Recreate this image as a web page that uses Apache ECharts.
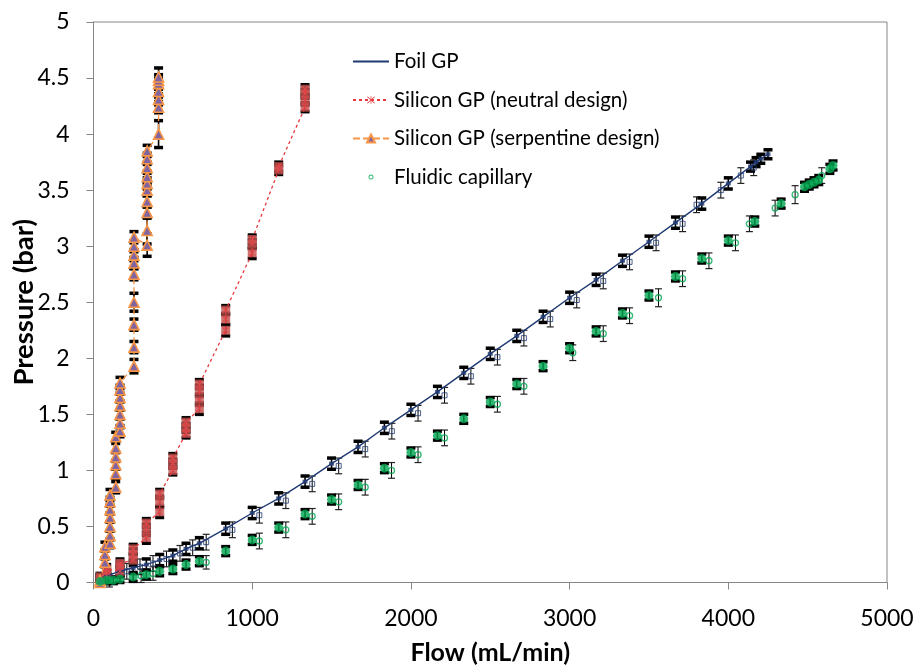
<!DOCTYPE html>
<html>
<head>
<meta charset="utf-8">
<script src="https://cdn.jsdelivr.net/npm/echarts@6/dist/echarts.min.js"></script>
<style>html,body{margin:0;padding:0;background:#fff}#c{width:917px;height:667px}</style>
</head>
<body>
<div id="c"></div>
<script>
// ---- Data (flow in mL/min, pressure in bar) ----
const foilFlow = [42, 83, 167, 250, 333, 417, 500, 583, 667, 833, 1000, 1167, 1333, 1500, 1667, 1833, 2000, 2167, 2333, 2500, 2667, 2833, 3000, 3167, 3333, 3500, 3667, 3833, 4000, 4140, 4175, 4205, 4250];
const foilP    = [0.04, 0.06, 0.10, 0.13, 0.16, 0.20, 0.24, 0.30, 0.35, 0.48, 0.62, 0.75, 0.90, 1.06, 1.21, 1.38, 1.54, 1.70, 1.87, 2.04, 2.20, 2.37, 2.54, 2.70, 2.87, 3.04, 3.21, 3.38, 3.56, 3.71, 3.75, 3.78, 3.82];
const foilErr  = [0.04, 0.04, 0.05, 0.05, 0.05, 0.05, 0.05, 0.05, 0.05, 0.05, 0.05, 0.05, 0.05, 0.05, 0.05, 0.05, 0.05, 0.05, 0.05, 0.05, 0.05, 0.05, 0.05, 0.05, 0.05, 0.05, 0.05, 0.05, 0.05, 0.04, 0.04, 0.04, 0.04];

const foilOpenFlow = [88, 210, 293, 375, 460, 545, 625, 710, 875, 1045, 1212, 1378, 1545, 1712, 1880, 2045, 2212, 2378, 2545, 2712, 2878, 3045, 3212, 3378, 3545, 3712, 3800, 3953, 4079, 4160];
const foilOpenP    = [0.05, 0.10, 0.14, 0.17, 0.21, 0.26, 0.31, 0.36, 0.47, 0.60, 0.73, 0.88, 1.04, 1.19, 1.35, 1.51, 1.67, 1.84, 2.01, 2.18, 2.35, 2.52, 2.69, 2.86, 3.03, 3.20, 3.37, 3.50, 3.63, 3.70];
const foilOpenErr  = [0.07, 0.07, 0.07, 0.07, 0.07, 0.07, 0.07, 0.07, 0.07, 0.07, 0.07, 0.07, 0.07, 0.07, 0.07, 0.07, 0.07, 0.07, 0.07, 0.07, 0.07, 0.07, 0.07, 0.07, 0.07, 0.07, 0.07, 0.07, 0.07, 0.07];

const capFlow = [42, 83, 125, 167, 250, 333, 417, 500, 583, 667, 833, 1000, 1167, 1333, 1500, 1667, 1833, 2000, 2167, 2333, 2500, 2667, 2833, 3000, 3167, 3333, 3500, 3667, 3833, 4000, 4167, 4333, 4480, 4510, 4540, 4570, 4640, 4660];
const capP    = [0.01, 0.02, 0.02, 0.03, 0.05, 0.07, 0.10, 0.12, 0.16, 0.19, 0.28, 0.38, 0.49, 0.61, 0.74, 0.87, 1.02, 1.16, 1.31, 1.46, 1.61, 1.77, 1.93, 2.09, 2.24, 2.40, 2.56, 2.73, 2.89, 3.05, 3.22, 3.38, 3.53, 3.55, 3.57, 3.59, 3.69, 3.72];
const capErr  = [0.03, 0.03, 0.03, 0.03, 0.04, 0.04, 0.04, 0.04, 0.04, 0.04, 0.04, 0.04, 0.04, 0.04, 0.04, 0.04, 0.04, 0.04, 0.04, 0.04, 0.04, 0.04, 0.04, 0.04, 0.04, 0.04, 0.04, 0.04, 0.04, 0.04, 0.04, 0.04, 0.04, 0.04, 0.04, 0.04, 0.04, 0.04];

const capOpenFlow = [100, 300, 375, 710, 1045, 1212, 1378, 1545, 1712, 1878, 2045, 2212, 2545, 2712, 3020, 3212, 3378, 3560, 3712, 3878, 4045, 4133, 4295, 4421, 4589];
const capOpenP    = [0.02, 0.06, 0.08, 0.18, 0.37, 0.47, 0.59, 0.72, 0.85, 1.00, 1.14, 1.29, 1.59, 1.75, 2.05, 2.22, 2.38, 2.54, 2.71, 2.87, 3.03, 3.20, 3.34, 3.46, 3.63];
const capOpenErr  = [0.06, 0.06, 0.06, 0.06, 0.07, 0.07, 0.07, 0.07, 0.07, 0.07, 0.07, 0.07, 0.07, 0.07, 0.07, 0.07, 0.07, 0.08, 0.07, 0.07, 0.07, 0.07, 0.07, 0.08, 0.07];

const neutralFlow = [42, 42, 83, 83, 83, 167, 167, 167, 250, 250, 250, 333, 333, 333, 417, 417, 417, 500, 500, 500, 583, 583, 583, 667, 667, 667, 667, 833, 833, 833, 1000, 1000, 1000, 1167, 1167, 1333, 1333, 1333, 1333];
const neutralP    = [0.03, 0.05, 0.06, 0.09, 0.12, 0.10, 0.14, 0.17, 0.20, 0.25, 0.30, 0.40, 0.47, 0.53, 0.63, 0.72, 0.79, 1.00, 1.06, 1.11, 1.33, 1.38, 1.43, 1.55, 1.63, 1.71, 1.77, 2.25, 2.35, 2.43, 2.94, 3.02, 3.06, 3.68, 3.71, 4.24, 4.30, 4.36, 4.40];
const neutralErr  = [0.03, 0.03, 0.03, 0.03, 0.04, 0.04, 0.04, 0.04, 0.05, 0.05, 0.04, 0.05, 0.05, 0.04, 0.05, 0.05, 0.04, 0.04, 0.04, 0.04, 0.04, 0.04, 0.04, 0.05, 0.05, 0.05, 0.04, 0.05, 0.05, 0.04, 0.05, 0.04, 0.04, 0.04, 0.04, 0.04, 0.04, 0.04, 0.04];

const serpFlow = [41, 41, 72, 72, 72, 104, 104, 104, 104, 104, 104, 104, 140, 140, 140, 140, 140, 140, 167, 167, 167, 167, 167, 167, 167, 255, 255, 255, 255, 255, 255, 255, 255, 255, 338, 338, 338, 338, 338, 338, 338, 338, 338, 338, 410, 410, 410, 410, 410, 410, 410];
const serpP    = [0.00, 0.02, 0.18, 0.25, 0.32, 0.35, 0.42, 0.50, 0.58, 0.65, 0.72, 0.78, 0.85, 0.97, 1.05, 1.12, 1.20, 1.30, 1.35, 1.42, 1.50, 1.58, 1.65, 1.72, 1.78, 1.93, 2.10, 2.30, 2.50, 2.75, 2.85, 2.92, 3.00, 3.08, 3.01, 3.14, 3.30, 3.40, 3.50, 3.56, 3.62, 3.70, 3.78, 3.85, 4.00, 4.24, 4.31, 4.38, 4.45, 4.48, 4.51];
const serpErr  = [0.03, 0.04, 0.04, 0.04, 0.04, 0.04, 0.04, 0.04, 0.04, 0.04, 0.04, 0.05, 0.05, 0.04, 0.04, 0.04, 0.04, 0.04, 0.05, 0.04, 0.04, 0.04, 0.04, 0.04, 0.05, 0.06, 0.05, 0.05, 0.08, 0.05, 0.05, 0.05, 0.05, 0.05, 0.10, 0.12, 0.05, 0.05, 0.05, 0.05, 0.05, 0.05, 0.05, 0.05, 0.12, 0.05, 0.05, 0.05, 0.05, 0.05, 0.08];

const xTickMin = 0, xTickMax = 5000, xTickStep = 1000;
const yTickMin = 0, yTickMax = 5, yTickStep = 0.5;

const seriesNames = ['Foil GP', 'Silicon GP (neutral design)', 'Silicon GP (serpentine design)', 'Fluidic capillary'];
const xTitle = 'Flow (mL/min)';
const yTitle = 'Pressure (bar)';

// ---- helpers ----
const pairs = (xs, ys) => xs.map((x, i) => [x, ys[i]]);
const errData = (xs, ys, es) => xs.map((x, i) => [x, ys[i] - es[i], ys[i] + es[i]]);

function errSeries(xs, ys, es, thick) {
  return {
    type: 'custom',
    silent: true,
    z: 2,
    data: errData(xs, ys, es),
    encode: { x: 0, y: [1, 2] },
    renderItem: function (params, api) {
      const x = api.value(0), lo = api.value(1), hi = api.value(2);
      const a = api.coord([x, lo]), b = api.coord([x, hi]);
      const w = thick ? 4.5 : 3.5;
      const capStyle = { stroke: thick ? '#000' : '#222', lineWidth: thick ? 3.5 : 1.2 };
      return {
        type: 'group',
        children: [
          { type: 'line', shape: { x1: a[0], y1: a[1], x2: b[0], y2: b[1] }, style: { stroke: '#000', lineWidth: thick ? 1.6 : 1 } },
          { type: 'line', shape: { x1: a[0] - w, y1: a[1], x2: a[0] + w, y2: a[1] }, style: capStyle },
          { type: 'line', shape: { x1: b[0] - w, y1: b[1], x2: b[0] + w, y2: b[1] }, style: capStyle }
        ]
      };
    }
  };
}

const asterisk = 'path://M1.4,0.6L9.4,8.6L8.6,9.4L0.6,1.4ZM8.6,0.6L9.4,1.4L1.4,9.4L0.6,8.6ZM4.6,0L5.4,0L5.4,10L4.6,10Z';
const smallRing = 'path://M0,0M36,10M20.5,5A2.5,2.5,0,1,0,15.5,5A2.5,2.5,0,1,0,20.5,5ZM19.6,5A1.6,1.6,0,1,1,16.4,5A1.6,1.6,0,1,1,19.6,5Z';

const font = 'Lato, "Open Sans", sans-serif';

const chart = echarts.init(document.getElementById('c'), null, { renderer: 'canvas' });
chart.setOption({
  animation: false,
  backgroundColor: '#fff',
  textStyle: { fontFamily: font, color: '#000' },
  grid: { left: 93.5, right: 30, top: 22, bottom: 84.5, outerBoundsMode: 'none', containLabel: false, show: true, borderColor: '#868686', borderWidth: 1, backgroundColor: 'transparent' },
  legend: {
    orient: 'vertical',
    left: 352,
    top: 51,
    padding: 0,
    itemWidth: 36,
    itemHeight: 10,
    itemGap: 17.5,
    textStyle: { fontFamily: font, fontSize: 20.5, color: '#000', lineHeight: 20 },
    data: [
      { name: seriesNames[0], itemStyle: { opacity: 0 } },
      { name: seriesNames[1] },
      { name: seriesNames[2] },
      { name: seriesNames[3], icon: smallRing, itemStyle: { color: '#00A651', borderWidth: 0 } }
    ]
  },
  xAxis: {
    type: 'value',
    min: xTickMin, max: xTickMax, interval: xTickStep,
    name: xTitle, nameLocation: 'middle', nameGap: 58,
    nameTextStyle: { fontFamily: font, fontSize: 25, fontWeight: 'bold', color: '#000' },
    axisLine: { lineStyle: { color: '#868686', width: 1 } },
    axisTick: { show: true, inside: false, length: 7, lineStyle: { color: '#868686' } },
    axisLabel: { fontFamily: font, fontSize: 23, color: '#000', margin: 25, formatter: v => String(v) },
    splitLine: { show: false }
  },
  yAxis: {
    type: 'value',
    min: yTickMin, max: yTickMax, interval: yTickStep,
    name: yTitle, nameLocation: 'middle', nameGap: 55, nameRotate: 90, nameMoveOverlap: false,
    nameTextStyle: { fontFamily: font, fontSize: 27.5, fontWeight: 'bold', color: '#000' },
    axisLine: { show: true, lineStyle: { color: '#868686', width: 1 } },
    axisTick: { show: true, inside: false, length: 7, lineStyle: { color: '#868686' } },
    axisLabel: { fontFamily: font, fontSize: 23, color: '#000', margin: 24, formatter: v => String(v) },
    splitLine: { show: false }
  },
  series: [
    // error bars
    errSeries(foilOpenFlow, foilOpenP, foilOpenErr, false),
    errSeries(capOpenFlow, capOpenP, capOpenErr, false),
    errSeries(foilFlow, foilP, foilErr, true),
    errSeries(capFlow, capP, capErr, true),
    errSeries(neutralFlow, neutralP, neutralErr, true),
    errSeries(serpFlow, serpP, serpErr, true),
    // Foil GP line
    {
      name: seriesNames[0], type: 'line', data: pairs(foilFlow, foilP), symbol: 'none',
      lineStyle: { color: '#1F3A73', width: 1.4 }, itemStyle: { color: '#1F3A73' }, z: 4
    },
    {
      type: 'scatter', data: pairs(foilFlow, foilP), symbol: 'rect', symbolSize: [5, 4],
      itemStyle: { color: '#1F3A73' }, z: 4, silent: true
    },
    {
      type: 'scatter', data: pairs(foilOpenFlow, foilOpenP), symbol: 'rect', symbolSize: 5,
      itemStyle: { color: 'rgba(255,255,255,0)', borderColor: '#1F3A73', borderWidth: 1 }, z: 4, silent: true
    },
    // Neutral design
    {
      type: 'scatter', data: pairs(neutralFlow, neutralP), symbol: 'rect', symbolSize: [9, 9],
      itemStyle: { color: '#C0504D' }, z: 3, silent: true
    },
    {
      name: seriesNames[1], type: 'line', data: pairs(neutralFlow, neutralP),
      symbol: asterisk, symbolSize: 7, showAllSymbol: true,
      lineStyle: { color: '#E8383D', width: 1.3, type: [3, 3] },
      itemStyle: { color: '#E4474B' }, z: 4
    },
    // Serpentine design
    {
      name: seriesNames[2], type: 'line', data: pairs(serpFlow, serpP),
      symbol: 'triangle', symbolSize: 10, showAllSymbol: true,
      lineStyle: { color: '#F79646', width: 1.3, type: [7, 3] },
      itemStyle: { color: '#8064A2', borderColor: '#F79646', borderWidth: 1.6 }, z: 4
    },
    // Fluidic capillary
    {
      type: 'scatter', data: pairs(capFlow, capP), symbol: 'circle', symbolSize: 9,
      itemStyle: { color: '#00A651' }, z: 4, silent: true
    },
    {
      name: seriesNames[3], type: 'scatter', data: pairs(capOpenFlow, capOpenP), symbol: 'circle', symbolSize: 6,
      itemStyle: { color: 'rgba(255,255,255,0)', borderColor: '#00A651', borderWidth: 1.3 }, z: 4
    }
  ]
});
</script>
</body>
</html>
